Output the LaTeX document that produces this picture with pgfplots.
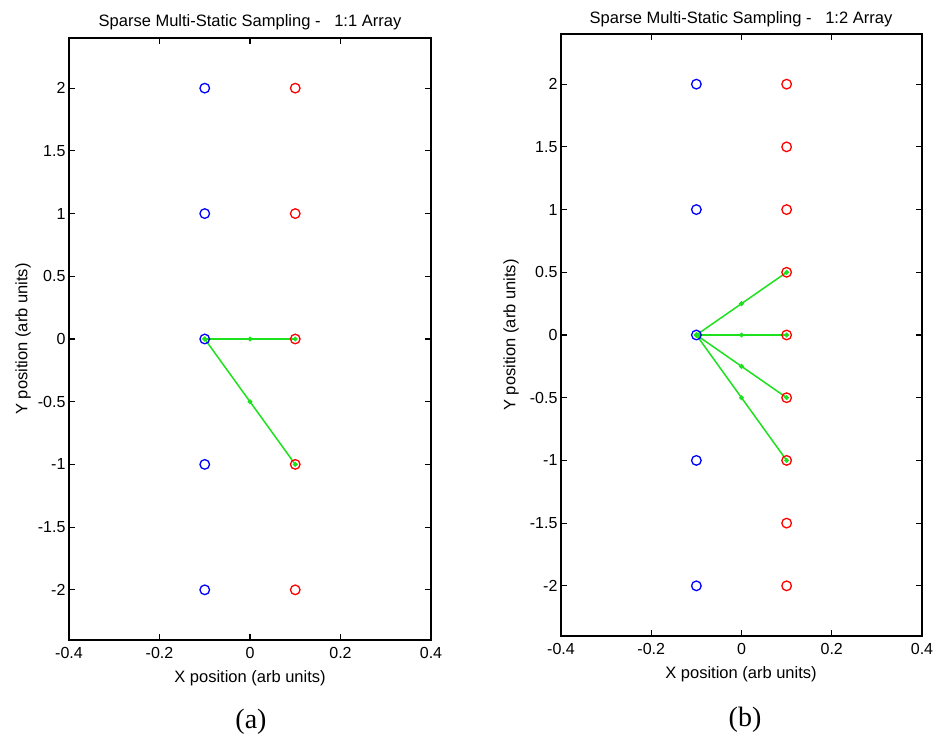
\documentclass[border=0pt]{standalone}
\usepackage{fontspec}
\setmainfont{Liberation Sans}
\newfontfamily\capfont{Liberation Serif}
\usepackage{pgfplots}
\pgfplotsset{compat=1.18}
\definecolor{mgreen}{RGB}{30,225,30}
\definecolor{mblue}{RGB}{0,0,255}
\definecolor{mred}{RGB}{255,0,0}
\begin{document}
\begin{tikzpicture}[x=1pt,y=1pt]
\useasboundingbox (0,0) rectangle (935,738);
\pgfplotsset{myax/.style={
  scale only axis, height=602pt,
  xmin=-0.4, xmax=0.4, ymin=-2.4, ymax=2.4,
  xtick={-0.4,-0.2,0,0.2,0.4}, xticklabels={-0.4,-0.2,0,0.2,0.4},
  ytick={-2,-1.5,-1,-0.5,0,0.5,1,1.5,2},
  yticklabels={-2,-1.5,-1,-0.5,0,0.5,1,1.5,2},
  tick align=inside, major tick length=6pt,
  axis line style={line width=1.1pt},
  every tick/.style={line width=1.1pt, black},
  tick label style={font=\fontsize{16}{19}\selectfont},
  xticklabel style={yshift=-4pt},
  clip=false,
  circ/.style={only marks, mark=o, mark size=4.8pt, line width=1.3pt},
  gr/.style={mgreen, line width=1.5pt, mark=*, mark size=1.6pt, mark options={solid}}
}}
\begin{axis}[myax, at={(69pt,98pt)}, anchor=south west, width=362pt]
\addplot[circ, mblue] coordinates {(-0.1,-2) (-0.1,-1) (-0.1,0) (-0.1,1) (-0.1,2)};
\addplot[circ, mred] coordinates {(0.1,-2) (0.1,-1) (0.1,0) (0.1,1) (0.1,2)};
\addplot[gr] coordinates {(-0.1,0) (0,0) (0.1,0)};
\addplot[gr] coordinates {(-0.1,0) (0,-0.5) (0.1,-1)};
\end{axis}
\begin{axis}[myax, at={(561pt,102pt)}, anchor=south west, width=361pt]
\addplot[circ, mblue] coordinates {(-0.1,-2) (-0.1,-1) (-0.1,0) (-0.1,1) (-0.1,2)};
\addplot[circ, mred] coordinates {(0.1,-2) (0.1,-1.5) (0.1,-1) (0.1,-0.5) (0.1,0) (0.1,0.5) (0.1,1) (0.1,1.5) (0.1,2)};
\addplot[gr] coordinates {(-0.1,0) (0,0.25) (0.1,0.5)};
\addplot[gr] coordinates {(-0.1,0) (0,0) (0.1,0)};
\addplot[gr] coordinates {(-0.1,0) (0,-0.25) (0.1,-0.5)};
\addplot[gr] coordinates {(-0.1,0) (0,-0.5) (0.1,-1)};
\end{axis}
\begin{scope}[every node/.style={font=\fontsize{16.5}{19}\selectfont, inner sep=0pt}]
\node at (250,716) {Sparse Multi-Static Sampling -\ \ \ 1:1 Array};
\node at (741,718.5) {Sparse Multi-Static Sampling -\ \ \ 1:2 Array};
\node at (250,60) {X position (arb units)};
\node at (741,63.5) {X position (arb units)};
\node[rotate=90] at (23,399) {Y position (arb units)};
\node[rotate=90] at (511,403) {Y position (arb units)};
\end{scope}
\node[font=\capfont\fontsize{28}{32}\selectfont, inner sep=0pt] at (251,16) {(a)};
\node[font=\capfont\fontsize{28}{32}\selectfont, inner sep=0pt] at (745,18) {(b)};
\end{tikzpicture}
\end{document}
